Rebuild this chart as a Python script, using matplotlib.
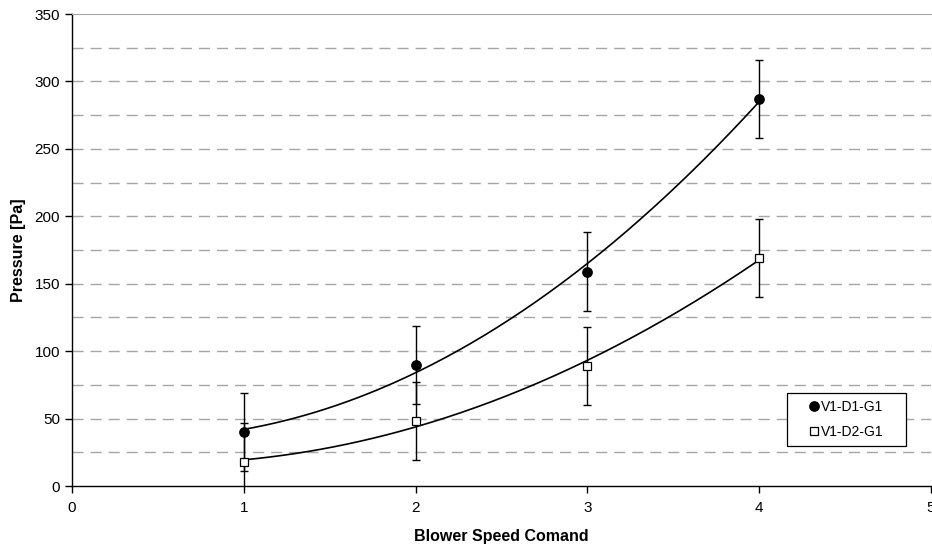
import numpy as np
import matplotlib.pyplot as plt
from matplotlib.patches import Rectangle

plt.rcParams['font.family'] = ['Liberation Sans', 'DejaVu Sans']

speed = [1, 2, 3, 4]
d1_pressure = [40, 90, 159, 287]
d2_pressure = [18, 48, 89, 169]
err = [29, 29, 29, 29]
labels = ['V1-D1-G1', 'V1-D2-G1']

fig = plt.figure(figsize=(9.32, 5.49), dpi=100)
ax = fig.add_axes([72 / 932, 1 - 486 / 549, 859 / 932, 472 / 549])

# dashed gridlines every 25
for y in np.arange(25, 350, 25):
    ax.axhline(y, color='#a6a6a6', lw=1, dashes=(8, 5), zorder=0)

xs = np.linspace(1, 4, 200)
for vals, mk, mfc, lab in [(d1_pressure, 'o', 'black', labels[0]),
                           (d2_pressure, 's', 'white', labels[1])]:
    coef = np.polyfit(speed, vals, 2)
    ax.plot(xs, np.polyval(coef, xs), color='black', lw=1.2, zorder=2)
    ax.errorbar(speed, vals, yerr=err, fmt='none', ecolor='black',
                elinewidth=1, capsize=3, capthick=1, zorder=3)
    ax.plot(speed, vals, mk, color='black', mfc=mfc, mec='black',
            ms=6.8 if mk == 'o' else 6, mew=0.9, ls='none', label=lab, zorder=4)

ax.set_xlim(0, 5)
ax.set_ylim(0, 350)
ax.set_xticks(range(0, 6))
ax.set_yticks(range(0, 351, 50))
ax.tick_params(direction='out', length=5, width=1, labelsize=11, colors='black')
ax.tick_params(axis='x', pad=6)
ax.spines['right'].set_visible(False)
ax.spines['top'].set_color('#a6a6a6')
ax.spines['left'].set_linewidth(1)
ax.spines['bottom'].set_linewidth(1)

ax.set_xlabel('Blower Speed Comand', fontsize=11.5, fontweight='bold', labelpad=10)
ax.set_ylabel('Pressure [Pa]', fontsize=11.5, fontweight='bold', labelpad=6)

# legend box drawn by hand, Excel style (wide padding left/right)
bx0, bx1 = (787 - 72) / 859, (906 - 72) / 859
by0, by1 = (486 - 446) / 472, (486 - 393) / 472
ax.add_patch(Rectangle((bx0, by0), bx1 - bx0, by1 - by0, transform=ax.transAxes,
                       facecolor='white', edgecolor='black', lw=0.9, zorder=5))
leg = ax.legend(loc='center', fontsize=10, frameon=False,
                handlelength=0.6, handletextpad=0.15, labelspacing=0.75,
                borderpad=0, borderaxespad=0,
                bbox_to_anchor=((bx0 + bx1) / 2, (by0 + by1) / 2))
leg.set_zorder(6)

fig.savefig('out.png', dpi=100)
